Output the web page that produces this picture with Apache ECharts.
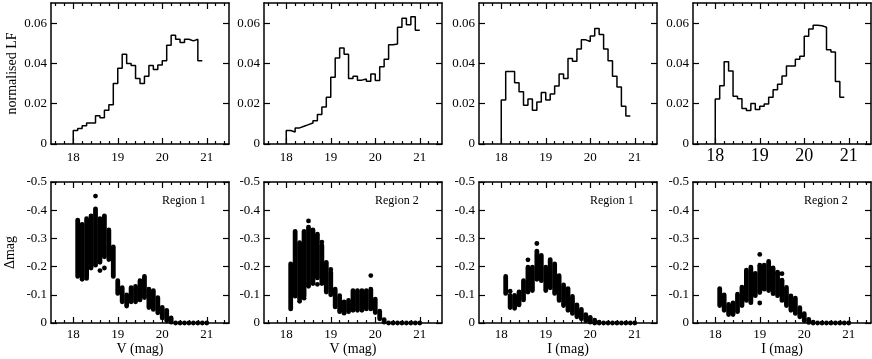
<!DOCTYPE html>
<html>
<head>
<meta charset="utf-8">
<script src="https://cdn.jsdelivr.net/npm/echarts@6/dist/echarts.min.js"></script>
<style>html,body{margin:0;padding:0;background:#fff}#c{width:872px;height:359px}</style>
</head>
<body>
<div id="c"></div>
<script>
// ---- tick labels ----
const magTicks = [18, 19, 20, 21];
const magMinorTicks = [17.6, 17.8, 18.2, 18.4, 18.6, 18.8, 19.2, 19.4, 19.6, 19.8, 20.2, 20.4, 20.6, 20.8, 21.2, 21.4];
const lfTicks = [0, 0.02, 0.04, 0.06];
const dmTicks = [-0.5, -0.4, -0.3, -0.2, -0.1, 0];

// ---- luminosity function histograms (bins of 0.1 mag starting at 18.0) ----
const lfBinStart = 18.0, lfBinWidth = 0.1;
const lfV1 = [0.0067,0.0077,0.009,0.0104,0.0104,0.014,0.013,0.0168,0.0195,0.030,0.0376,0.0445,0.040,0.039,0.0325,0.030,0.0336,0.039,0.037,0.0392,0.0413,0.049,0.054,0.052,0.0504,0.052,0.0512,0.052,0.0413];
const lfV2 = [0.0067,0.006,0.008,0.0088,0.0096,0.0104,0.0115,0.0147,0.0184,0.0232,0.0331,0.0427,0.0477,0.0445,0.0325,0.0336,0.0317,0.0323,0.0312,0.0347,0.0315,0.0384,0.0421,0.0493,0.0496,0.058,0.0624,0.0592,0.0632,0.0565];
const lfI1 = [0.0219,0.036,0.036,0.0304,0.026,0.0192,0.0224,0.0168,0.0208,0.0256,0.0219,0.0248,0.0288,0.0347,0.0325,0.0424,0.0411,0.0472,0.0517,0.0509,0.0536,0.0573,0.0544,0.0472,0.0413,0.0336,0.0283,0.0187,0.0139];
const lfI2 = [0.0223,0.0289,0.0408,0.0362,0.0237,0.0225,0.0176,0.0166,0.0201,0.0171,0.0188,0.0199,0.0232,0.0269,0.0297,0.0338,0.0387,0.0387,0.0421,0.0436,0.0535,0.0571,0.059,0.0587,0.058,0.0468,0.0457,0.031,0.0232];

// ---- delta-mag columns: magnitude of each column, most negative and least negative value ----
const colMag = [18.1,18.2,18.3,18.4,18.5,18.6,18.7,18.8,18.9,19.0,19.1,19.2,19.3,19.4,19.5,19.6,19.7,19.8,19.9,20.0,20.1,20.2,20.3,20.4,20.5,20.6,20.7,20.8,20.9,21.0];
const dV1Top = [-0.365,-0.35,-0.37,-0.38,-0.405,-0.37,-0.38,-0.33,-0.27,-0.15,-0.125,-0.1,-0.125,-0.13,-0.15,-0.165,-0.12,-0.115,-0.09,-0.055,-0.045,-0.018,0,0,0,0,0,0,0,0];
const dV1Bot = [-0.165,-0.16,-0.165,-0.195,-0.205,-0.215,-0.235,-0.225,-0.165,-0.105,-0.075,-0.06,-0.075,-0.075,-0.082,-0.09,-0.055,-0.048,-0.036,-0.018,-0.008,-0.003,0,0,0,0,0,0,0,0];
const dV2Top = [-0.21,-0.325,-0.285,-0.325,-0.34,-0.33,-0.315,-0.275,-0.215,-0.18,-0.12,-0.09,-0.075,-0.08,-0.115,-0.115,-0.115,-0.115,-0.12,-0.085,-0.042,-0.012,0,0,0,0,0,0,0,0];
const dV2Bot = [-0.05,-0.095,-0.085,-0.095,-0.13,-0.14,-0.16,-0.14,-0.11,-0.1,-0.057,-0.04,-0.035,-0.04,-0.045,-0.045,-0.045,-0.05,-0.05,-0.037,-0.015,-0.003,0,0,0,0,0,0,0,0];
const dI1Top = [-0.165,-0.098,-0.098,-0.11,-0.15,-0.198,-0.198,-0.255,-0.24,-0.198,-0.225,-0.21,-0.168,-0.135,-0.122,-0.094,-0.064,-0.048,-0.03,-0.02,-0.01,-0.003,0,0,0,0,0,0,0,0];
const dI1Bot = [-0.105,-0.055,-0.052,-0.064,-0.082,-0.11,-0.115,-0.155,-0.15,-0.115,-0.125,-0.105,-0.08,-0.062,-0.045,-0.034,-0.022,-0.015,-0.008,-0.003,0,0,0,0,0,0,0,0,0,0];
const dI2Top = [-0.122,-0.1,-0.066,-0.071,-0.102,-0.127,-0.187,-0.198,-0.176,-0.205,-0.205,-0.218,-0.195,-0.176,-0.152,-0.126,-0.096,-0.088,-0.054,-0.033,-0.013,-0.003,0,0,0,0,0,0,0,0];
const dI2Bot = [-0.062,-0.045,-0.03,-0.03,-0.04,-0.062,-0.08,-0.075,-0.097,-0.108,-0.12,-0.115,-0.104,-0.097,-0.08,-0.062,-0.045,-0.034,-0.022,-0.008,-0.002,0,0,0,0,0,0,0,0,0];

// isolated points [mag, delta]
const dV1Out = [[18.5,-0.45],[18.6,-0.186],[18.7,-0.195],[18.2,-0.155],[18.3,-0.158]];
const dV2Out = [[18.5,-0.362],[18.8,-0.287],[19.9,-0.168],[18.3,-0.077],[18.4,-0.088],[19.2,-0.097],[18.7,-0.137],[19.0,-0.19]];
const dI1Out = [[18.2,-0.113],[18.6,-0.224],[18.8,-0.282]];
const dI2Out = [[19.0,-0.243],[19.0,-0.071],[19.4,-0.18],[19.5,-0.175],[18.8,-0.072]];

const panelNames = ['V (mag)', 'V (mag)', 'I (mag)', 'I (mag)'];
const regionNames = ['Region 1', 'Region 2', 'Region 1', 'Region 2'];

const FONT = 'Liberation Serif';
const lefts = [51, 264, 479, 693];
const W = 178, H = 141, topRow = 3, botRow = 182;

const grids = [], xAxes = [], yAxes = [], series = [], graphics = [];

function stepData(vals) {
  const d = [[lfBinStart, 0]];
  vals.forEach((v, i) => d.push([+(lfBinStart + lfBinWidth * i).toFixed(2), v]));
  d.push([+(lfBinStart + lfBinWidth * vals.length).toFixed(2), vals[vals.length - 1]]);
  return d;
}

function addGrid(left, top, isTop, idx) {
  const g = grids.length;
  grids.push({left: left, top: top, width: W, height: H, containLabel: false});
  const line = {show: true, lineStyle: {color: '#000', width: 1.5}};
  const bigLabels = isTop && idx === 3;
  const xb = {
    gridIndex: g, type: 'value', position: 'bottom', min: 17.5, max: 21.5,
    axisLine: line, splitLine: {show: false},
    axisTick: {show: true, inside: true, length: 6, lineStyle: {color: '#000', width: 1.2}, customValues: magTicks},
    axisLabel: {show: true, customValues: magTicks, color: '#000', fontFamily: FONT,
      fontSize: bigLabels ? 18 : 13, margin: bigLabels ? 3 : (isTop ? 7 : 5)}
  };
  if (!isTop) {
    xb.name = panelNames[idx]; xb.nameLocation = 'middle'; xb.nameGap = 19;
    xb.nameTextStyle = {color: '#000', fontFamily: FONT, fontSize: 14};
  }
  const xbMinor = {
    gridIndex: g, type: 'value', position: 'bottom', min: 17.5, max: 21.5,
    axisLine: {show: false}, splitLine: {show: false}, axisLabel: {show: false},
    axisTick: {show: true, inside: true, length: 3, lineStyle: {color: '#000', width: 1.2}, customValues: magMinorTicks}
  };
  const xt = {
    gridIndex: g, type: 'value', position: 'top', min: 17.5, max: 21.5,
    axisLine: line, splitLine: {show: false}, axisLabel: {show: false},
    axisTick: {show: true, inside: true, length: 6, lineStyle: {color: '#000', width: 1.2}, customValues: magTicks}
  };
  const xtMinor = {
    gridIndex: g, type: 'value', position: 'top', min: 17.5, max: 21.5,
    axisLine: {show: false}, splitLine: {show: false}, axisLabel: {show: false},
    axisTick: {show: true, inside: true, length: 3, lineStyle: {color: '#000', width: 1.2}, customValues: magMinorTicks}
  };
  const xi = xAxes.length;
  xAxes.push(xb, xbMinor, xt, xtMinor);
  const ticks = isTop ? lfTicks : dmTicks;
  const yl = {
    gridIndex: g, type: 'value', position: 'left',
    min: isTop ? 0 : -0.5, max: isTop ? 0.07 : 0, inverse: !isTop,
    axisLine: line, splitLine: {show: false},
    axisTick: {show: true, inside: true, length: 6, lineStyle: {color: '#000', width: 1.2}, customValues: ticks},
    axisLabel: {show: true, customValues: ticks, color: '#000', fontFamily: FONT, fontSize: 13, margin: 4,
      formatter: v => (v === 0 ? '0' : (isTop ? v.toFixed(2) : v.toFixed(1)))}
  };
  if (idx === 0) {
    yl.name = isTop ? 'normalised LF' : 'Δmag';
    yl.nameLocation = 'middle';
    yl.nameGap = isTop ? 32 : 34;
    yl.nameTextStyle = {color: '#000', fontFamily: FONT, fontSize: 14};
  }
  const yr = {
    gridIndex: g, type: 'value', position: 'right',
    min: isTop ? 0 : -0.5, max: isTop ? 0.07 : 0, inverse: !isTop,
    axisLine: line, splitLine: {show: false}, axisLabel: {show: false},
    axisTick: {show: true, inside: true, length: 6, lineStyle: {color: '#000', width: 1.2}, customValues: ticks}
  };
  const yi = yAxes.length;
  yAxes.push(yl, yr);
  return {xi: xi, yi: yi};
}

const lfSets = [lfV1, lfV2, lfI1, lfI2];
const topSets = [dV1Top, dV2Top, dI1Top, dI2Top];
const botSets = [dV1Bot, dV2Bot, dI1Bot, dI2Bot];
const outSets = [dV1Out, dV2Out, dI1Out, dI2Out];

for (let k = 0; k < 4; k++) {
  const a = addGrid(lefts[k], topRow, true, k);
  series.push({
    type: 'line', xAxisIndex: a.xi, yAxisIndex: a.yi, step: 'end', showSymbol: false,
    data: stepData(lfSets[k]), lineStyle: {color: '#000', width: 1.5}, silent: true, animation: false
  });
}
for (let k = 0; k < 4; k++) {
  const a = addGrid(lefts[k], botRow, false, k);
  const cols = colMag.map((m, i) => [m, topSets[k][i], botSets[k][i]]);
  series.push({
    type: 'custom', xAxisIndex: a.xi, yAxisIndex: a.yi, data: cols, animation: false, silent: true,
    encode: {x: 0, y: [1, 2]},
    renderItem: function (params, api) {
      const x = api.value(0), lo = api.value(1), hi = api.value(2);
      const p1 = api.coord([x, lo]), p2 = api.coord([x, hi]);
      const r = 2.4;
      const y1 = Math.min(p1[1], p2[1]) - r, y2 = Math.max(p1[1], p2[1]) + r;
      return {type: 'rect', shape: {x: p1[0] - r, y: y1, width: 2 * r, height: y2 - y1, r: r}, style: {fill: '#000'}};
    }
  });
  series.push({
    type: 'scatter', xAxisIndex: a.xi, yAxisIndex: a.yi, data: outSets[k], symbolSize: 4.8,
    itemStyle: {color: '#000', opacity: 1}, animation: false, silent: true
  });
  graphics.push({
    type: 'text', left: lefts[k] + 111, top: botRow + 13,
    style: {text: regionNames[k], fill: '#000', font: '12px "' + FONT + '"'}
  });
}

const chart = echarts.init(document.getElementById('c'), null, {renderer: 'canvas'});
chart.setOption({
  backgroundColor: '#fff',
  animation: false,
  grid: grids, xAxis: xAxes, yAxis: yAxes, series: series, graphic: graphics
});
</script>
</body>
</html>
